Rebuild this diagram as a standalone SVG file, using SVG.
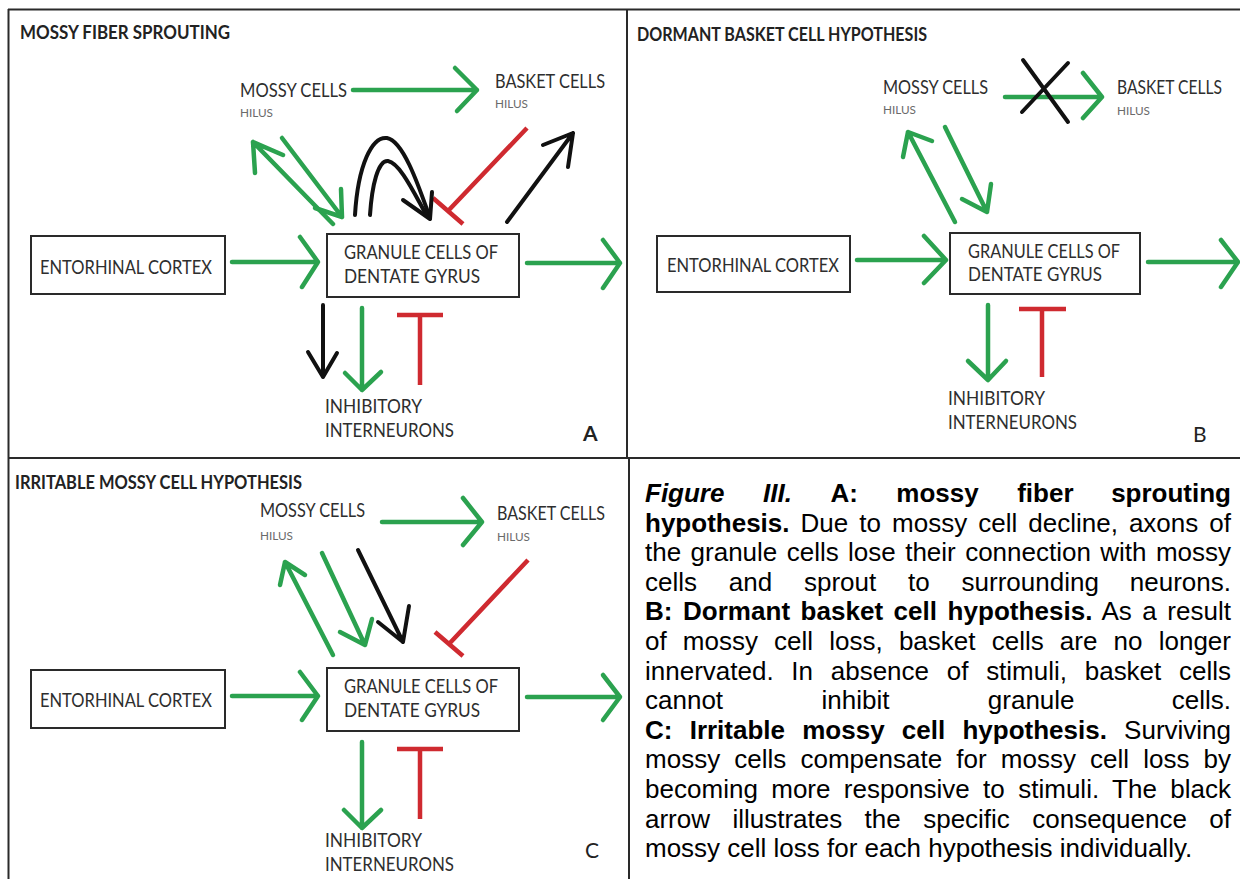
<svg xmlns="http://www.w3.org/2000/svg" width="1240" height="879" viewBox="0 0 1240 879">
<style>
.lbl{font-family:Lato,"Open Sans","Liberation Sans",sans-serif;font-size:19px;fill:#2e2e2e}
.ttl{font-family:Lato,"Open Sans","Liberation Sans",sans-serif;font-size:19px;font-weight:bold;fill:#222}
.hil{font-family:Lato,"Open Sans","Liberation Sans",sans-serif;font-size:12px;fill:#6a6a6a}
.let{font-family:Lato,"Open Sans","Liberation Sans",sans-serif;font-size:21px;fill:#222}
.box{fill:#fff;stroke:#2a2a2a;stroke-width:2}
.frame{stroke:#2a2a2a;stroke-width:2;fill:none}
.g{stroke:#2ba24f;stroke-width:4.5;fill:none;stroke-linecap:round;stroke-linejoin:round}
.r{stroke:#cf2a30;stroke-width:4.5;fill:none;stroke-linecap:butt;stroke-linejoin:round}
.k{stroke:#111;stroke-width:4;fill:none;stroke-linecap:round;stroke-linejoin:round}
.cap{font-family:"Liberation Sans",Arial,sans-serif;font-size:26px;fill:#000}
.b{font-weight:bold}
</style>
<rect width="1240" height="879" fill="#fff"/>
<g id="frames">
<path class="frame" d="M8,9.5 H1240 M8.5,9 V879 M627,9 V458 M8,458 H1240 M629,458 V879"/>
</g>
<g id="panel-A">
<text class="ttl" x="20" y="39" textLength="210" lengthAdjust="spacingAndGlyphs">MOSSY FIBER SPROUTING</text>
<g id="A-mossy"><text class="lbl" x="240" y="97" textLength="107" lengthAdjust="spacingAndGlyphs">MOSSY CELLS</text><text class="hil" x="240" y="117" textLength="33" lengthAdjust="spacingAndGlyphs">HILUS</text></g>
<g id="A-basket"><text class="lbl" x="495" y="88" textLength="110" lengthAdjust="spacingAndGlyphs">BASKET CELLS</text><text class="hil" x="495" y="108" textLength="33" lengthAdjust="spacingAndGlyphs">HILUS</text></g>
<g id="A-entorhinal"><rect class="box" x="31" y="236" width="194" height="58"/><text class="lbl" x="40" y="274" textLength="172" lengthAdjust="spacingAndGlyphs">ENTORHINAL CORTEX</text></g>
<g id="A-granule"><rect class="box" x="327" y="234" width="192" height="63"/><text class="lbl" x="344" y="259" textLength="154" lengthAdjust="spacingAndGlyphs">GRANULE CELLS OF</text><text class="lbl" x="344" y="283" textLength="136" lengthAdjust="spacingAndGlyphs">DENTATE GYRUS</text></g>
<g id="A-inhib"><text class="lbl" x="325" y="413" textLength="97" lengthAdjust="spacingAndGlyphs">INHIBITORY</text><text class="lbl" x="325" y="437" textLength="129" lengthAdjust="spacingAndGlyphs">INTERNEURONS</text></g>
<text class="let" x="583" y="441" font-weight="bold">A</text>
</g>
<g id="panel-B">
<text class="ttl" x="637" y="41" textLength="290" lengthAdjust="spacingAndGlyphs">DORMANT BASKET CELL HYPOTHESIS</text>
<g id="B-mossy"><text class="lbl" x="883" y="94" textLength="105" lengthAdjust="spacingAndGlyphs">MOSSY CELLS</text><text class="hil" x="883" y="114" textLength="33" lengthAdjust="spacingAndGlyphs">HILUS</text></g>
<g id="B-basket"><text class="lbl" x="1117" y="94" textLength="105" lengthAdjust="spacingAndGlyphs">BASKET CELLS</text><text class="hil" x="1117" y="115" textLength="33" lengthAdjust="spacingAndGlyphs">HILUS</text></g>
<g id="B-entorhinal"><rect class="box" x="657" y="236" width="193" height="56"/><text class="lbl" x="667" y="272" textLength="172" lengthAdjust="spacingAndGlyphs">ENTORHINAL CORTEX</text></g>
<g id="B-granule"><rect class="box" x="950" y="233" width="190" height="61"/><text class="lbl" x="968" y="258" textLength="152" lengthAdjust="spacingAndGlyphs">GRANULE CELLS OF</text><text class="lbl" x="968" y="281" textLength="134" lengthAdjust="spacingAndGlyphs">DENTATE GYRUS</text></g>
<g id="B-inhib"><text class="lbl" x="948" y="405" textLength="97" lengthAdjust="spacingAndGlyphs">INHIBITORY</text><text class="lbl" x="948" y="429" textLength="129" lengthAdjust="spacingAndGlyphs">INTERNEURONS</text></g>
<text class="let" x="1193" y="442">B</text>
</g>
<g id="panel-C">
<text class="ttl" x="15" y="489" textLength="287" lengthAdjust="spacingAndGlyphs">IRRITABLE MOSSY CELL HYPOTHESIS</text>
<g id="C-mossy"><text class="lbl" x="260" y="517" textLength="105" lengthAdjust="spacingAndGlyphs">MOSSY CELLS</text><text class="hil" x="260" y="540" textLength="33" lengthAdjust="spacingAndGlyphs">HILUS</text></g>
<g id="C-basket"><text class="lbl" x="497" y="520" textLength="108" lengthAdjust="spacingAndGlyphs">BASKET CELLS</text><text class="hil" x="497" y="541" textLength="33" lengthAdjust="spacingAndGlyphs">HILUS</text></g>
<g id="C-entorhinal"><rect class="box" x="31" y="670" width="194" height="58"/><text class="lbl" x="40" y="707" textLength="172" lengthAdjust="spacingAndGlyphs">ENTORHINAL CORTEX</text></g>
<g id="C-granule"><rect class="box" x="327" y="668" width="192" height="63"/><text class="lbl" x="344" y="693" textLength="154" lengthAdjust="spacingAndGlyphs">GRANULE CELLS OF</text><text class="lbl" x="344" y="717" textLength="136" lengthAdjust="spacingAndGlyphs">DENTATE GYRUS</text></g>
<g id="C-inhib"><text class="lbl" x="325" y="847" textLength="97" lengthAdjust="spacingAndGlyphs">INHIBITORY</text><text class="lbl" x="325" y="871" textLength="129" lengthAdjust="spacingAndGlyphs">INTERNEURONS</text></g>
<text class="let" x="585" y="858">C</text>
</g>
<g id="connectors">
<path class="g" d="M353,90 H477 M455,68 L477,90 L457,111"/>
<path class="g" d="M333,224 L253,142 M255,173 L253,142 L283,155"/>
<path class="g" d="M282,138 L342,217 M341,189 L342,217 L315,208"/>
<path class="g" d="M232,262 H318 M300,237 L318,262 L302,287"/>
<path class="g" d="M527,263 H620 M603,240 L620,263 L603,288"/>
<path class="g" d="M362,308 V390 M345,373 L362,390 L381,372"/>
<path class="r" d="M527,128 L448,211 M433,198 L463,224"/>
<path class="r" d="M397,315 H443 M420,315 V385"/>
<path class="k" d="M355,215 C358,165 372,136 387,138 C404,141 420,190 430,218"/>
<path class="k" d="M370,215 C372,185 378,160 388,161 C400,163 414,193 427,216"/>
<path class="k" d="M403,200 L430,219 L432,192"/>
<path class="k" d="M507,222 L573,133 M543,145 L573,133 L568,167"/>
<path class="k" d="M323,305 V377 M308,352 L323,377 L337,353"/>

<path class="g" d="M1005,97 H1102 M1083,73 L1102,97 L1083,118"/>
<path class="k" d="M1023,60 L1068,122 M1068,63 L1022,112"/>
<path class="g" d="M955,222 L908,132 M903,157 L908,132 L932,141"/>
<path class="g" d="M945,127 L987,212 M962,199 L987,212 L991,184"/>
<path class="g" d="M857,260 H946 M924,236 L946,260 L924,283"/>
<path class="g" d="M1148,262 H1238 M1221,240 L1238,262 L1221,287"/>
<path class="g" d="M988,305 V380 M968,361 L988,380 L1006,361"/>
<path class="r" d="M1019,309 H1066 M1042,309 V377"/>

<path class="g" d="M382,522 H482 M463,498 L482,522 L463,545"/>
<path class="g" d="M333,655 L285,562 M280,585 L285,562 L305,575"/>
<path class="g" d="M322,553 L365,645 M340,632 L365,645 L372,619"/>
<path class="k" d="M358,550 L403,642 M378,622 L403,642 L409,606"/>
<path class="r" d="M528,560 L449,644 M435,632 L463,656"/>
<path class="g" d="M232,696 H318 M300,672 L318,696 L302,720"/>
<path class="g" d="M527,697 H620 M603,675 L620,697 L603,720"/>
<path class="g" d="M362,742 V828 M344,810 L362,828 L381,810"/>
<path class="r" d="M397,749 H443 M420,749 V819"/>
</g>
<g id="caption">
<text class="cap" y="502"><tspan x="645" class="b" font-style="italic">Figure</tspan><tspan x="763" class="b" font-style="italic">III.</tspan><tspan x="830.4" class="b">A:</tspan><tspan x="896.3" class="b">mossy</tspan><tspan x="1017.2" class="b">fiber</tspan><tspan x="1231" class="b" text-anchor="end">sprouting</tspan></text>
<text class="cap" x="645" y="531.6" word-spacing="3.8" textLength="586" lengthAdjust="spacing"><tspan class="b">hypothesis.</tspan> Due to mossy cell decline, axons of</text>
<text class="cap" x="645" y="561.2" word-spacing="2.2" textLength="586" lengthAdjust="spacing">the granule cells lose their connection with mossy</text>
<text class="cap" y="590.8"><tspan x="645">cells</tspan><tspan x="728.8">and</tspan><tspan x="804">sprout</tspan><tspan x="908.1">to</tspan><tspan x="961.6">surrounding</tspan><tspan x="1231" text-anchor="end">neurons.</tspan></text>
<text class="cap" x="645" y="620.4" word-spacing="3.2" textLength="586" lengthAdjust="spacing"><tspan class="b">B: Dormant basket cell hypothesis.</tspan> As a result</text>
<text class="cap" x="645" y="650" word-spacing="8.9" textLength="586" lengthAdjust="spacing">of mossy cell loss, basket cells are no longer</text>
<text class="cap" x="645" y="679.6" word-spacing="10.5" textLength="586" lengthAdjust="spacing">innervated. In absence of stimuli, basket cells</text>
<text class="cap" y="709.2"><tspan x="645">cannot</tspan><tspan x="821.5">inhibit</tspan><tspan x="987.8">granule</tspan><tspan x="1231" text-anchor="end">cells.</tspan></text>
<text class="cap" x="645" y="738.8" word-spacing="10" textLength="586" lengthAdjust="spacing"><tspan class="b">C: Irritable mossy cell hypothesis.</tspan> Surviving</text>
<text class="cap" x="645" y="768.4" word-spacing="6.9" textLength="586" lengthAdjust="spacing">mossy cells compensate for mossy cell loss by</text>
<text class="cap" x="645" y="798" word-spacing="6.1" textLength="586" lengthAdjust="spacing">becoming more responsive to stimuli. The black</text>
<text class="cap" x="645" y="827.6" word-spacing="15.2" textLength="586" lengthAdjust="spacing">arrow illustrates the specific consequence of</text>
<text class="cap" x="645" y="857.2">mossy cell loss for each hypothesis individually.</text>
</g>
</svg>
